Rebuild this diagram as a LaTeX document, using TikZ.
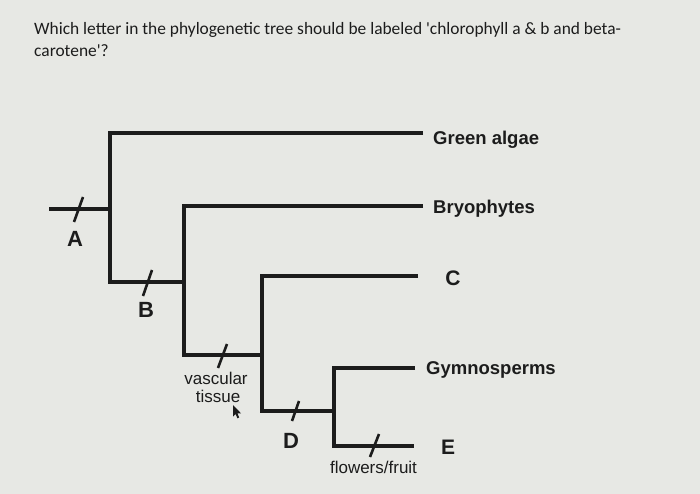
\documentclass[tikz,border=0pt]{standalone}
\usepackage{fontspec}
\setmainfont{Carlito}
\newfontfamily\labfont{Liberation Sans}
\definecolor{bg}{HTML}{E7E8E4}
\definecolor{ink}{HTML}{1C1C1C}
\begin{document}
\begin{tikzpicture}[x=1pt,y=-1pt,
  branch/.style={draw=ink,line width=3.2pt,line join=miter},
  tickmark/.style={draw=ink,line width=2.6pt},
  question/.style={font=\fontsize{17.4}{22}\selectfont,text=ink,anchor=base west,inner sep=0pt},
  taxon/.style={font=\labfont\bfseries\fontsize{18.5}{20}\selectfont,text=ink,anchor=base west,inner sep=0pt},
  letter/.style={font=\labfont\bfseries\fontsize{22}{24}\selectfont,text=ink,anchor=base,inner sep=0pt},
  tipletter/.style={font=\labfont\bfseries\fontsize{21}{23}\selectfont,text=ink,anchor=base,inner sep=0pt},
  trait/.style={font=\labfont\fontsize{17}{18}\selectfont,text=ink,anchor=base,inner sep=0pt}]
\fill[bg] (0,0) rectangle (700,494);
\useasboundingbox (0,0) rectangle (700,494);

% question
\node[question] (q1) at (34,35) {Which letter in the phylogenetic tree should be labeled \textquotesingle chlorophyll a \& b and beta-};
\node[question] (q2) at (34,57) {carotene\textquotesingle?};

% coordinates of the tree
\coordinate (root) at (49,209);
\coordinate (n1) at (110,209);
\coordinate (n1t) at (110,133);
\coordinate (n1b) at (110,282);
\coordinate (gaend) at (423,133);
\coordinate (n2t) at (184,206);
\coordinate (n2b) at (184,355);
\coordinate (n2m) at (184,282);
\coordinate (bryend) at (423,206);
\coordinate (n3t) at (262,276);
\coordinate (n3b) at (262,411);
\coordinate (n3m) at (262,355);
\coordinate (cend) at (418,276);
\coordinate (n4t) at (334,368);
\coordinate (n4b) at (334,446);
\coordinate (n4m) at (334,411);
\coordinate (gyend) at (415,368);
\coordinate (eend) at (414,446);

% branches
\draw[branch] (root) -- (n1);
\draw[branch] (gaend) -- (n1t) -- (n1b) -- (n2m);
\draw[branch] (bryend) -- (n2t) -- (n2b) -- (n3m);
\draw[branch] (cend) -- (n3t) -- (n3b) -- (n4m);
\draw[branch] (gyend) -- (n4t) -- (n4b) -- (eend);

% ticks
\coordinate (ta1) at (74,222); \coordinate (ta2) at (83,197);
\coordinate (tb1) at (143,296); \coordinate (tb2) at (152,270);
\coordinate (tv1) at (218,368); \coordinate (tv2) at (227,344);
\coordinate (td1) at (292,421); \coordinate (td2) at (299,401);
\coordinate (te1) at (370,457); \coordinate (te2) at (379,434);
\draw[tickmark] (ta1) -- (ta2);
\draw[tickmark] (tb1) -- (tb2);
\draw[tickmark] (tv1) -- (tv2);
\draw[tickmark] (td1) -- (td2);
\draw[tickmark] (te1) -- (te2);

% taxon labels
\node[taxon] (ga) at (433,145) {Green algae};
\node[taxon] (bry) at (433,214) {Bryophytes};
\node[tipletter] (C) at (453,285) {C};
\node[taxon] (gym) at (426,374) {Gymnosperms};
\node[tipletter] (E) at (448,454) {E};

% trait letters
\node[letter] (A) at (75,246) {A};
\node[letter] (B) at (146,317) {B};
\node[letter] (D) at (291,448) {D};
\node[trait] (vasc1) at (216,384) {vascular};
\node[trait] (vasc2) at (218,402) {tissue};
\node[trait] (flow) at (373.5,473) {flowers/fruit};

% mouse pointer
\fill[ink] (233,405) -- (233,416.5) -- (235.6,414) -- (237.4,418.3) -- (239.2,417.5) -- (237.4,413.3) -- (241,413.3) -- cycle;
\end{tikzpicture}
\end{document}
